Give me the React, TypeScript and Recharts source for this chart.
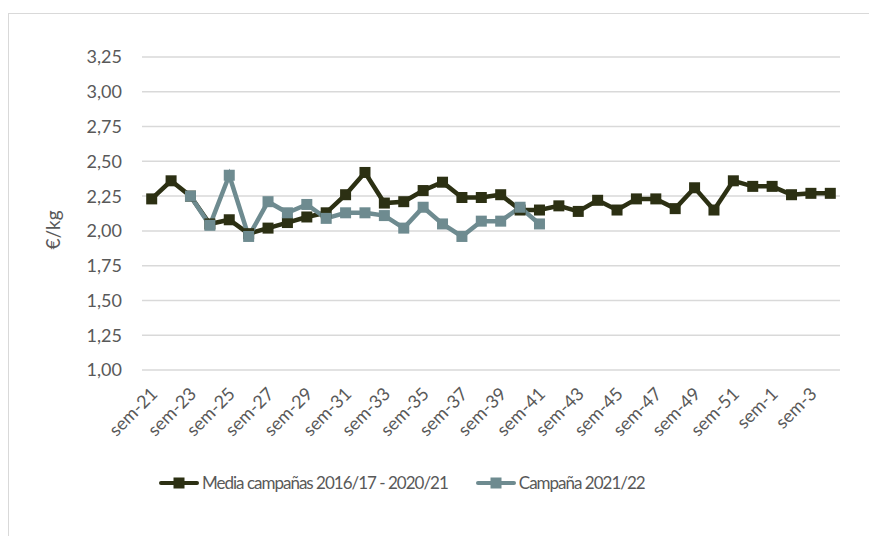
import { LineChart, Line, CartesianGrid, XAxis, YAxis } from "recharts";

const semanas = [
  "sem-21", "sem-22", "sem-23", "sem-24", "sem-25", "sem-26", "sem-27", "sem-28",
  "sem-29", "sem-30", "sem-31", "sem-32", "sem-33", "sem-34", "sem-35", "sem-36",
  "sem-37", "sem-38", "sem-39", "sem-40", "sem-41", "sem-42", "sem-43", "sem-44",
  "sem-45", "sem-46", "sem-47", "sem-48", "sem-49", "sem-50", "sem-51", "sem-52",
  "sem-1", "sem-2", "sem-3", "sem-4",
];

const mediaCampanas = [
  2.23, 2.36, 2.25, 2.05, 2.08, 1.98, 2.02, 2.06, 2.1, 2.13, 2.26, 2.42,
  2.2, 2.21, 2.29, 2.35, 2.24, 2.24, 2.26, 2.15, 2.15, 2.18, 2.14, 2.22,
  2.15, 2.23, 2.23, 2.16, 2.31, 2.15, 2.36, 2.32, 2.32, 2.26, 2.27, 2.27,
];

const campana2122: (number | null)[] = [
  null, null, 2.25, 2.04, 2.4, 1.96, 2.21, 2.13, 2.19, 2.09, 2.13, 2.13,
  2.11, 2.02, 2.17, 2.05, 1.96, 2.07, 2.07, 2.17, 2.05,
];

const yTicks = [1, 1.25, 1.5, 1.75, 2, 2.25, 2.5, 2.75, 3, 3.25];

const DARK = "#2c3013";
const TEAL = "#6e8b90";
const FONT = "Lato, 'Open Sans', sans-serif";

const data = semanas.map((s, i) => ({
  sem: s,
  media: mediaCampanas[i],
  actual: i < campana2122.length ? campana2122[i] : null,
}));

const SquareDot = (color: string) => (props: any) => {
  const { cx, cy, value } = props;
  if (value == null || cx == null || cy == null) return null;
  return <rect key={`${color}-${cx}`} x={cx - 5.5} y={cy - 5.5} width={11} height={11} fill={color} />;
};

const XTick = (props: any) => {
  const { x, y, payload } = props;
  const tx = x + 7;
  const ty = y + 17;
  return (
    <text
      x={tx}
      y={ty}
      transform={`rotate(-45 ${tx} ${ty})`}
      textAnchor="end"
      fill="#595959"
      fontSize={18}
      fontFamily={FONT}
    >
      {payload.value}
    </text>
  );
};

const fmt = (v: number) => v.toFixed(2).replace(".", ",");

function LegendItem({ color, label }: { color: string; label: string }) {
  return (
    <div style={{ display: "flex", alignItems: "center" }}>
      <svg width={40} height={14} style={{ marginRight: 3 }}>
        <line x1={2} y1={7} x2={38} y2={7} stroke={color} strokeWidth={4} strokeLinecap="round" />
        <rect x={14.5} y={1.5} width={11} height={11} fill={color} />
      </svg>
      <span>{label}</span>
    </div>
  );
}

export default function App() {
  return (
    <div
      style={{
        position: "absolute",
        left: 0,
        top: 0,
        width: 869,
        height: 536,
        overflow: "hidden",
        background: "#fff",
        fontFamily: FONT,
      }}
    >
      <div
        style={{
          position: "absolute",
          left: 8,
          top: 13,
          width: 880,
          height: 560,
          border: "1.5px solid #d9d9d9",
        }}
      />
      <LineChart
        width={869}
        height={536}
        data={data}
        margin={{ top: 57, right: 29, bottom: 0, left: 0 }}
        style={{ position: "absolute", left: 0, top: 0 }}
      >
        <CartesianGrid vertical={false} stroke="#d9d9d9" strokeWidth={1.5} />
        <XAxis
          dataKey="sem"
          interval={1}
          axisLine={false}
          tickLine={false}
          height={166}
          padding={{ left: 9.7, right: 9.7 }}
          tick={<XTick />}
        />
        <YAxis
          domain={[1, 3.25]}
          ticks={yTicks}
          width={142}
          axisLine={false}
          tickLine={false}
          tickMargin={14}
          tickFormatter={fmt}
          tick={{ fill: "#595959", fontSize: 18, fontFamily: FONT }}
        />
        <Line
          dataKey="media"
          stroke={DARK}
          strokeWidth={4.5}
          dot={SquareDot(DARK)}
          isAnimationActive={false}
        />
        <Line
          dataKey="actual"
          stroke={TEAL}
          strokeWidth={4.5}
          dot={SquareDot(TEAL)}
          connectNulls={false}
          isAnimationActive={false}
        />
      </LineChart>
      <div
        style={{
          position: "absolute",
          left: 52,
          top: 230,
          transform: "translate(-50%, -50%) rotate(-90deg)",
          color: "#595959",
          fontSize: 19,
        }}
      >
        €/kg
      </div>
      <div
        style={{
          position: "absolute",
          top: 472,
          left: 159,
          display: "flex",
          gap: 28,
          color: "#595959",
          fontSize: 17,
          letterSpacing: -1,
          lineHeight: "22px",
        }}
      >
        <LegendItem color={DARK} label="Media campañas 2016/17 - 2020/21" />
        <LegendItem color={TEAL} label="Campaña 2021/22" />
      </div>
    </div>
  );
}
